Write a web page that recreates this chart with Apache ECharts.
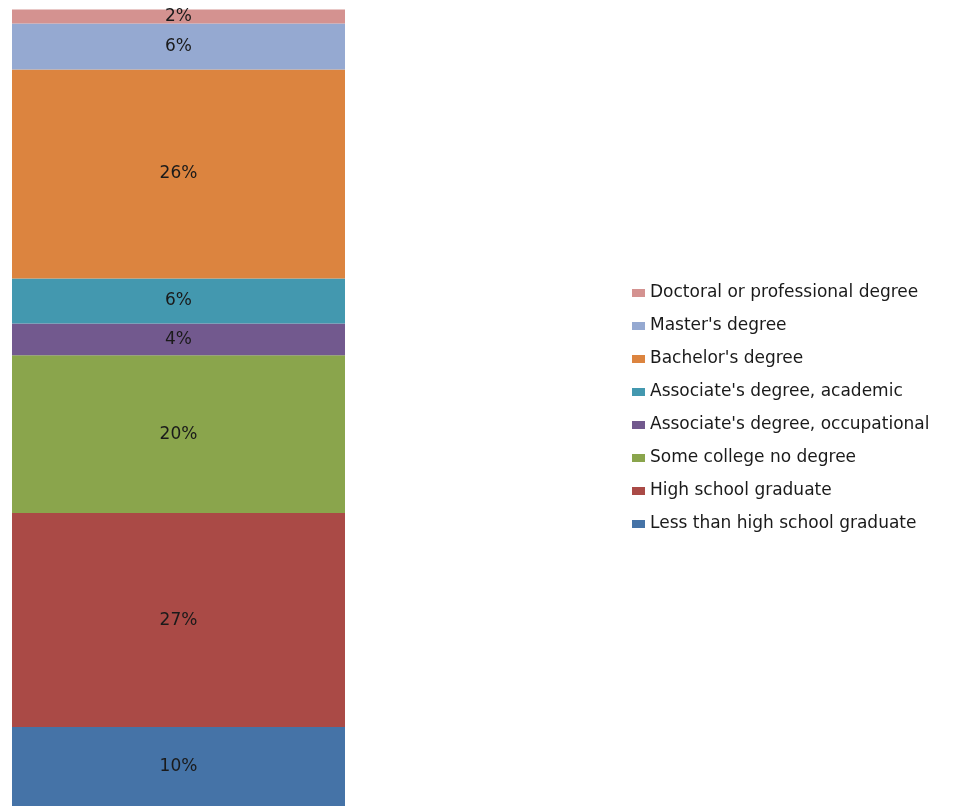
<!DOCTYPE html>
<html><head><meta charset="utf-8">
<script src="https://cdn.jsdelivr.net/npm/echarts@6/dist/echarts.min.js"></script>
<style>html,body{margin:0;padding:0;background:#fff}#c{width:967px;height:806px}</style>
</head><body><div id="c"></div>
<script>
var categories = ['Education'];
var seriesNames = ['Less than high school graduate','High school graduate','Some college no degree',"Associate's degree, occupational","Associate's degree, academic","Bachelor's degree","Master's degree",'Doctoral or professional degree'];
var seriesValues = [9.9, 26.85, 19.8, 4.0, 5.65, 26.2, 5.77, 1.76];
var seriesColors = ['#4573A7','#AA4A46','#8AA54C','#72598E','#4398AF','#DC843F','#95A9D1','#D49290'];

var chart = echarts.init(document.getElementById('c'), null, {renderer:'canvas'});
var series = seriesNames.map(function(n,i){
  return {
    name:n, type:'bar', stack:'total', barWidth:'100%',
    itemStyle:{color:seriesColors[i]},
    label:{show:true, position:'inside', color:'#1a1a1a', fontFamily:'DejaVu Sans', fontSize:17,
      formatter:function(p){return Math.round(p.value)+'%';}},
    data:[seriesValues[i]]
  };
});
chart.setOption({
  animation:false,
  grid:{left:12, top:9, width:333, bottom:0, containLabel:false},
  xAxis:{type:'category', data:categories, show:false},
  yAxis:{type:'value', min:0, max:100, show:false},
  legend:{
    orient:'vertical', left:632, top:283, padding:0,
    data:seriesNames.slice().reverse(),
    icon:'rect', itemWidth:13, itemHeight:8, itemGap:13,
    textStyle:{fontFamily:'DejaVu Sans', fontSize:17, color:'#1a1a1a', lineHeight:20}
  },
  series:series
});
</script></body></html>
